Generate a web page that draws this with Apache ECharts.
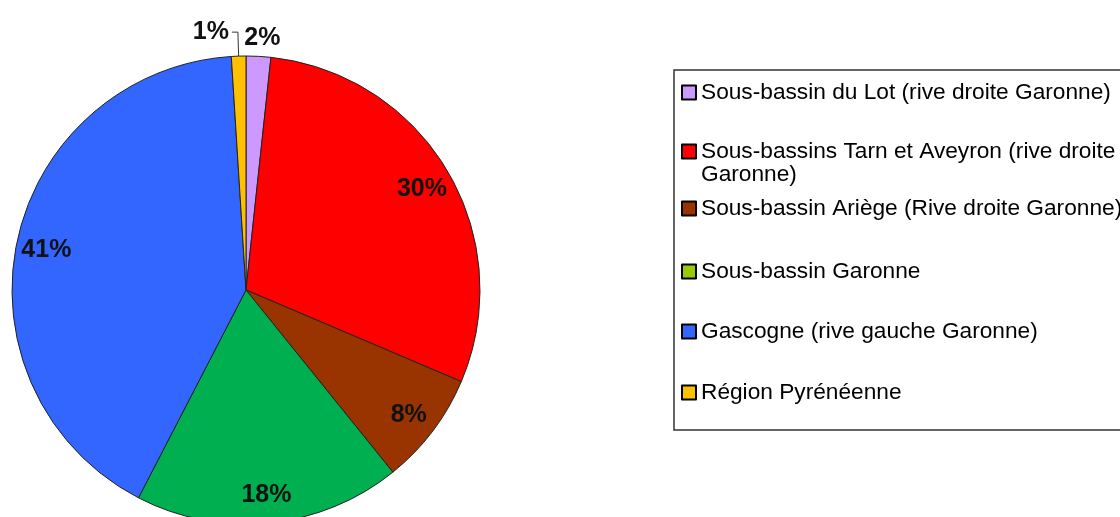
<!DOCTYPE html>
<html>
<head>
<meta charset="utf-8">
<script src="https://cdn.jsdelivr.net/npm/echarts@6/dist/echarts.min.js"></script>
<style>
  html, body { margin: 0; padding: 0; background: #fff; }
  #chart { width: 1120px; height: 517px; }
</style>
</head>
<body>
<div id="chart"></div>
<script>
// données (part en %)
const categories = [
    'Sous-bassin du Lot (rive droite Garonne)',
    'Sous-bassins Tarn et Aveyron (rive droite Garonne)',
    'Sous-bassin Ariège (Rive droite Garonne)',
    'Sous-bassin Garonne',
    'Gascogne (rive gauche Garonne)',
    'Région Pyrénéenne'
];
const values = [1.7, 29.7, 7.8, 18.4, 41.4, 1.0];
const sliceColors = ['#cc99ff', '#ff0000', '#993300', '#00b050', '#3366ff', '#ffc000'];
const legendColors = ['#cc99ff', '#ff0000', '#993300', '#99cc00', '#3366ff', '#ffc000'];
const legendTops = [81, 140, 197, 260, 320, 381];

const FONT = 'Liberation Sans, Arial, sans-serif';
const smallSlices = [0, 5]; // étiquettes à l'extérieur

const chart = echarts.init(document.getElementById('chart'));

const pctLabel = p => Math.round(p.percent) + '%';

// une légende par entrée, pour placer chaque ligne comme dans l'original
const legends = categories.map((name, i) => ({
    left: 681,
    top: legendTops[i],
    padding: 0,
    orient: 'vertical',
    icon: 'rect',
    itemWidth: 14,
    itemHeight: 14,
    selectedMode: false,
    data: [{
        name: name,
        itemStyle: { color: legendColors[i], borderColor: '#000', borderWidth: 2 }
    }],
    // la 2e entrée passe sur deux lignes (suite ajoutée en texte libre)
    formatter: n => (i === 1 ? 'Sous-bassins Tarn et Aveyron (rive droite' : n),
    textStyle: { fontFamily: FONT, fontSize: 22.7, color: '#000' }
}));

chart.setOption({
    backgroundColor: '#fff',
    animation: false,
    legend: legends,
    graphic: [
        {
            type: 'rect',
            shape: { x: 674, y: 70, width: 470, height: 360 },
            style: { fill: 'none', stroke: '#333', lineWidth: 1.5 },
            z: -1
        },
        {
            type: 'text',
            left: 701,
            top: 163,
            style: { text: 'Garonne)', font: '22.7px ' + FONT, fill: '#000' }
        }
    ],
    series: [
        {
            // le camembert
            type: 'pie',
            center: [246, 290],
            radius: 234,
            startAngle: 90,
            clockwise: true,
            avoidLabelOverlap: false,
            itemStyle: { borderColor: '#222', borderWidth: 1 },
            data: categories.map((name, i) => ({
                name: name,
                value: values[i],
                itemStyle: { color: sliceColors[i] },
                label: { show: smallSlices.includes(i) },
                labelLine: i === 5
                    ? { show: true, length: 24, length2: 6, lineStyle: { color: '#333', width: 1 } }
                    : { show: false, length: 14, length2: 0 }
            })),
            label: {
                position: 'outside',
                formatter: pctLabel,
                fontFamily: FONT,
                fontSize: 25,
                fontWeight: 'bold',
                color: '#111',
                distanceToLabelLine: 3
            },
            labelLayout: p => (p.dataIndex === 0 ? { dx: -18, dy: -4 } : {}),
            emphasis: { disabled: true }
        },
        {
            // étiquettes intérieures, placées vers le bord des parts
            type: 'pie',
            center: [246, 292],
            radius: [168, 234],
            startAngle: 90,
            clockwise: true,
            silent: true,
            itemStyle: { color: 'transparent' },
            data: categories.map((name, i) => ({
                name: name,
                value: values[i],
                label: { show: !smallSlices.includes(i) }
            })),
            label: {
                position: 'inside',
                formatter: pctLabel,
                fontFamily: FONT,
                fontSize: 25,
                fontWeight: 'bold',
                color: '#111'
            },
            labelLine: { show: false },
            emphasis: { disabled: true }
        }
    ]
});
</script>
</body>
</html>
